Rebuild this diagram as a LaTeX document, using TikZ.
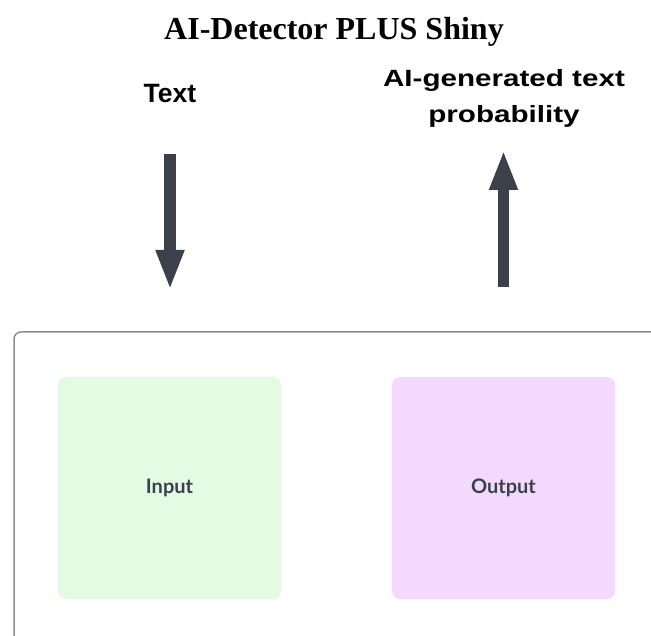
\documentclass[tikz,border=0pt]{standalone}
\usepackage{fontspec}
\setmainfont{Liberation Serif}
\newfontfamily\lsans{Liberation Sans}
\newfontfamily\latof{Lato}
\usetikzlibrary{arrows.meta}
\definecolor{arrowc}{HTML}{3A414A}
\definecolor{framec}{HTML}{8A8E94}
\definecolor{inputc}{HTML}{E3FAE3}
\definecolor{outputc}{HTML}{F3D9FD}
\definecolor{labelc}{HTML}{3B414A}
\tikzset{
  bigarrow/.style={draw=arrowc, line width=11.5pt, -{Triangle[length=40pt,width=26pt]}},
  panel/.style={rounded corners=8pt, minimum width=223pt, minimum height=222pt, inner sep=0pt,
    text=labelc, font=\latof\bfseries\fontsize{20}{24}\selectfont},
  lbl/.style={inner sep=0pt, align=center, font=\lsans\bfseries}
}
\begin{document}
\begin{tikzpicture}[x=1pt,y=-1pt]
\useasboundingbox (0,0) rectangle (651,636);
\clip (0,0) rectangle (651,636);
\fill[white] (0,0) rectangle (651,636);
\node[inner sep=0pt, font=\bfseries\fontsize{32}{36}\selectfont, anchor=base] (title) at (334,40) {AI-Detector PLUS Shiny};
\node[lbl, font=\lsans\bfseries\fontsize{26.5}{30}\selectfont, anchor=base] (text) at (170,103) {Text};
\node[lbl, anchor=base, xscale=1.26, font=\lsans\bfseries\fontsize{23.5}{36}\selectfont] (prob) at (504,123) {AI-generated text\\probability};
\coordinate (d1) at (170,154);
\coordinate (d2) at (170,290);
\coordinate (u1) at (503.5,287);
\coordinate (u2) at (503.5,150);
\draw[bigarrow] (d1) -- (d2);
\draw[bigarrow] (u1) -- (u2);
\draw[framec, line width=1.5pt, rounded corners=7pt] (14,660) -- (14,332) -- (680,332);
\node[panel, fill=inputc] (input) at (169.5,488) {Input};
\node[panel, fill=outputc] (output) at (503.5,488) {Output};
\end{tikzpicture}
\end{document}
